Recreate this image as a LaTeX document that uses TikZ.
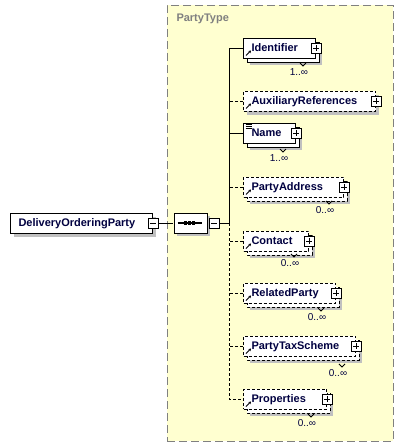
\documentclass[tikz,border=0pt]{standalone}
\usepackage{fontspec}
\setmainfont{Liberation Sans}
\usetikzlibrary{shapes.misc,arrows.meta}

\definecolor{typeback}{RGB}{255,255,208}
\definecolor{typeline}{RGB}{128,128,128}
\definecolor{shadegray}{RGB}{192,192,192}
\definecolor{elemtext}{RGB}{0,0,64}

\begin{document}
\begin{tikzpicture}[x=1pt, y=-1pt, line width=1pt,
  every node/.style={inner sep=0pt},
  typebox/.style={draw=typeline, fill=typeback, dash pattern=on 8pt off 4pt, minimum width=226pt, minimum height=436pt},
  typelabel/.style={anchor=west, text=typeline, font=\bfseries\fontsize{11}{13}\selectfont},
  elem/.style={draw, fill=white, anchor=west, minimum height=20pt, inner xsep=8pt, text height=8pt, text depth=2pt, align=left, text=elemtext, font=\bfseries\fontsize{11}{13}\selectfont},
  opt/.style={dash pattern=on 3pt off 2pt},
  shadebox/.style={fill=shadegray},
  backbox/.style={draw, fill=white},
  reficon/.style={path picture={\draw[solid, line width=0.8pt, -{Stealth[length=2.5pt,width=3pt]}] ([shift={(2.5pt,2.5pt)}]path picture bounding box.south west) -- ++(5pt,5pt);}},
  simpleicon/.style={path picture={\draw[solid, line width=0.8pt] ([shift={(2pt,-1.5pt)}]path picture bounding box.north west) -- ++(6pt,0pt) ++(-6pt,-2pt) -- ++(6pt,0pt) ++(-6pt,-2pt) -- ++(6pt,0pt);}},
  plusbox/.style={draw, fill=white, solid, minimum size=10pt, path picture={\draw[solid] ([xshift=2pt]path picture bounding box.west) -- ([xshift=-2pt]path picture bounding box.east) ([yshift=-2pt]path picture bounding box.north) -- ([yshift=2pt]path picture bounding box.south);}},
  minusbox/.style={draw, fill=white, solid, minimum size=10pt, path picture={\draw[solid] ([xshift=2pt]path picture bounding box.west) -- ([xshift=-2pt]path picture bounding box.east);}},
  seqbox/.style={draw, fill=white, chamfered rectangle, chamfered rectangle xsep=5pt, minimum width=33pt, minimum height=20pt},
  dot/.style={fill=black},
  mult/.style={text=elemtext, font=\fontsize{10}{12}\selectfont},
  notch/.style={line width=0.8pt}]
\useasboundingbox (0,0) rectangle (403,447);

%type frame
\node[typebox] (PT) at (280,223) {};

%shadows (drawn before any text)
\fill[shadebox] (14,217) rectangle (156,237);
\fill[shadebox] (177,216) rectangle (210,236);
\fill[shadebox] (250,45) rectangle (322,65);
\fill[shadebox] (247,95) rectangle (379,115);
\fill[shadebox] (250,130) rectangle (302,150);
\fill[shadebox] (250,184) rectangle (350,204);
\fill[shadebox] (250,238) rectangle (315,258);
\fill[shadebox] (250,290) rectangle (342,310);
\fill[shadebox] (250,343) rectangle (362,363);
\fill[shadebox] (250,396) rectangle (333,416);

%repeated copies
\draw[backbox] (247,42) rectangle (319,62);
\draw[backbox] (247,127) rectangle (299,147);
\draw[backbox, opt] (247,181) rectangle (347,201);
\draw[backbox, opt] (247,235) rectangle (312,255);
\draw[backbox, opt] (247,287) rectangle (339,307);
\draw[backbox, opt] (247,340) rectangle (359,360);
\draw[backbox, opt] (247,393) rectangle (330,413);

\node[typelabel] (PTL) at (176,19) {PartyType};

%root and sequence
\node[elem, text width=126pt] (DOP) at (10,223) {DeliveryOrderingParty};
\node[minusbox] (M1) at (DOP.east) {};
\node[seqbox] (SEQ) at (190.5,223) {};
\node[minusbox, anchor=west] (M2) at ([xshift=1pt]SEQ.east) {};
\coordinate (B0) at (229,223);
\draw (M1) -- (SEQ);
\draw (M2) -- (B0);
\draw[line width=1.2pt] ([xshift=4pt]SEQ.west) -- ([xshift=-6pt]SEQ.east);
\fill[dot] ([shift={(-6.5pt,-1.8pt)}]SEQ.center) rectangle ++(3.4pt,3.6pt);
\fill[dot] ([shift={(-2.5pt,-1.8pt)}]SEQ.center) rectangle ++(3.4pt,3.6pt);
\fill[dot] ([shift={(1.5pt,-1.8pt)}]SEQ.center) rectangle ++(3.4pt,3.6pt);

%children
\node[elem, reficon, text width=56pt] (E1) at (243,48) {Identifier};
\node[elem, opt, reficon, text width=116pt] (E2) at (243,101) {AuxiliaryReferences};
\node[elem, simpleicon, text width=36pt] (E3) at (243,133) {Name};
\node[elem, opt, reficon, text width=84pt] (E4) at (243,187) {PartyAddress};
\node[elem, opt, reficon, text width=49pt] (E5) at (243,241) {Contact};
\node[elem, opt, reficon, text width=76pt] (E6) at (243,293) {RelatedParty};
\node[elem, opt, reficon, text width=96pt] (E7) at (243,346) {PartyTaxScheme};
\node[elem, opt, reficon, text width=67pt] (E8) at (243,399) {Properties};

\node[plusbox] (P1) at (E1.east) {};
\node[plusbox] (P2) at (E2.east) {};
\node[plusbox] (P3) at (E3.east) {};
\node[plusbox] (P4) at (E4.east) {};
\node[plusbox] (P5) at (E5.east) {};
\node[plusbox] (P6) at (E6.east) {};
\node[plusbox] (P7) at (E7.east) {};
\node[plusbox] (P8) at (E8.east) {};

\draw (B0) |- (E1.west);
\draw (B0) |- (E3.west);
\draw[opt] (B0) |- (E8.west);
\draw[opt] (E2.west) -- (E2.west -| B0);
\draw[opt] (E4.west) -- (E4.west -| B0);
\draw[opt] (E5.west) -- (E5.west -| B0);
\draw[opt] (E6.west) -- (E6.west -| B0);
\draw[opt] (E7.west) -- (E7.west -| B0);

%occurrences
\node[mult] (L1) at (299,72) {1..∞};
\node[mult] (L3) at (279,158) {1..∞};
\node[mult] (L4) at (325,210) {0..∞};
\node[mult] (L5) at (290,263) {0..∞};
\node[mult] (L6) at (317,317) {0..∞};
\node[mult] (L7) at (338,373) {0..∞};
\node[mult] (L8) at (307,423) {0..∞};
\draw[notch] (L1.north) ++(1pt,5pt) -- ++(3pt,-3pt) -- ++(3pt,3pt);
\draw[notch] (L3.north) ++(1pt,5pt) -- ++(3pt,-3pt) -- ++(3pt,3pt);
\draw[notch] (L4.north) ++(1pt,5pt) -- ++(3pt,-3pt) -- ++(3pt,3pt);
\draw[notch] (L5.north) ++(1pt,5pt) -- ++(3pt,-3pt) -- ++(3pt,3pt);
\draw[notch] (L6.north) ++(1pt,5pt) -- ++(3pt,-3pt) -- ++(3pt,3pt);
\draw[notch] (L7.north) ++(1pt,5pt) -- ++(3pt,-3pt) -- ++(3pt,3pt);
\draw[notch] (L8.north) ++(1pt,5pt) -- ++(3pt,-3pt) -- ++(3pt,3pt);
\end{tikzpicture}
\end{document}
